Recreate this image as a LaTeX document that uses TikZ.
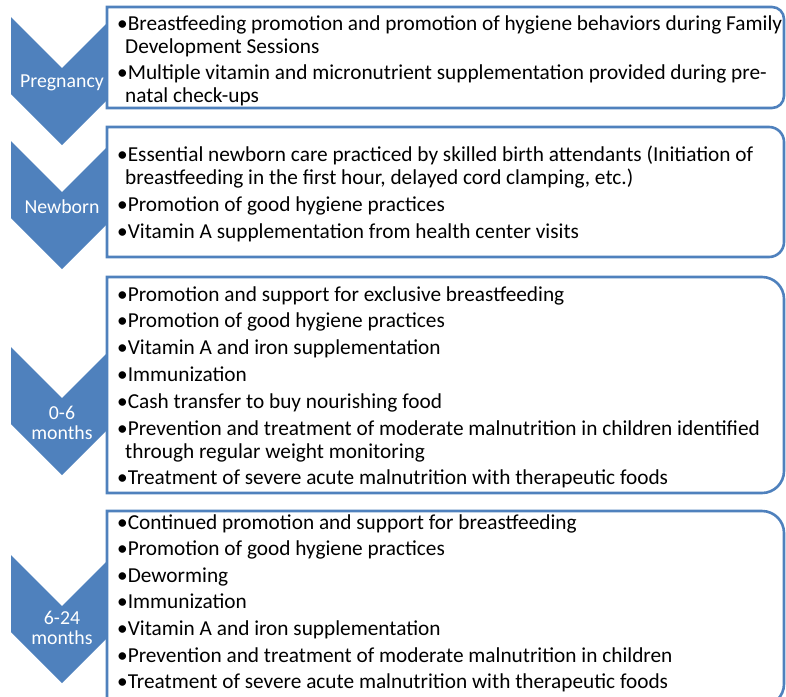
\documentclass[tikz,border=0pt]{standalone}
\usepackage{fontspec}
\setmainfont{Carlito}
\usetikzlibrary{positioning}
\definecolor{accent}{RGB}{79,129,189}
\newcommand{\cont}{\hspace*{8pt}}
\newcommand{\gap}{\\[3.8pt]}
\newcommand{\tgap}{\\[3.6pt]}

\begin{document}
\begin{tikzpicture}[x=1pt,y=-1pt,
    chev/.style={fill=accent},
    panel/.style={draw=accent,line width=2.6pt,fill=white},
    lbl/.style={text=white,align=center,inner sep=0pt,font=\fontsize{19.8}{20}\selectfont},
    txt/.style={anchor=base west,inner sep=0pt,font=\fontsize{21.3}{23}\selectfont}]

    \useasboundingbox (0,0) rectangle (786,696);

    % chevrons
    \foreach \t in {17,141,347,555}
        \fill[chev] (11,\t) -- (62,\t+51) -- (113,\t) -- (113,\t+77) -- (62,\t+128) -- (11,\t+77) -- cycle;

    % boxes (the last one runs past the bottom edge)
    \foreach \t/\b/\r in {7/108/12,127/257/15,277/493/22,511/706/22}
        \draw[panel] (107,\t) -- (784-\r,\t) arc[start angle=90,end angle=0,radius=\r pt]
            -- (784,\b-\r) arc[start angle=0,end angle=-90,radius=\r pt] -- (107,\b) -- cycle;

    \node [lbl] (preg) at (62,83) {Pregnancy};
    \node [lbl] (newb) at (62,207) {Newborn};
    \node [lbl] (zerosix) at (62,423) {0-6\\months};
    \node [lbl] (sixtwenty) at (62,628) {6-24\\months};

    \node [txt] (preglist) at (117,30) {\parbox[t]{665pt}{%
        \textbullet Breastfeeding promotion and promotion of hygiene behaviors during Family\\
        \cont Development Sessions\gap
        \textbullet Multiple vitamin and micronutrient supplementation provided during pre-\\
        \cont natal check-ups}};
    \node [txt] (newblist) at (117,161.5) {\parbox[t]{665pt}{%
        \textbullet Essential newborn care practiced by skilled birth attendants (Initiation of\\
        \cont breastfeeding in the first hour, delayed cord clamping, etc.)\gap
        \textbullet Promotion of good hygiene practices\gap
        \textbullet Vitamin A supplementation from health center visits}};
    \node [txt] (zerosixlist) at (117,301) {\parbox[t]{665pt}{%
        \textbullet Promotion and support for exclusive breastfeeding\gap
        \textbullet Promotion of good hygiene practices\gap
        \textbullet Vitamin A and iron supplementation\gap
        \textbullet Immunization\gap
        \textbullet Cash transfer to buy nourishing food\gap
        \textbullet Prevention and treatment of moderate malnutrition in children identified\\
        \cont through regular weight monitoring\gap
        \textbullet Treatment of severe acute malnutrition with therapeutic foods}};
    \node [txt] (sixtwentylist) at (117,529) {\parbox[t]{665pt}{%
        \textbullet Continued promotion and support for breastfeeding\tgap
        \textbullet Promotion of good hygiene practices\tgap
        \textbullet Deworming\tgap
        \textbullet Immunization\tgap
        \textbullet Vitamin A and iron supplementation\tgap
        \textbullet Prevention and treatment of moderate malnutrition in children\tgap
        \textbullet Treatment of severe acute malnutrition with therapeutic foods}};
\end{tikzpicture}
\end{document}
